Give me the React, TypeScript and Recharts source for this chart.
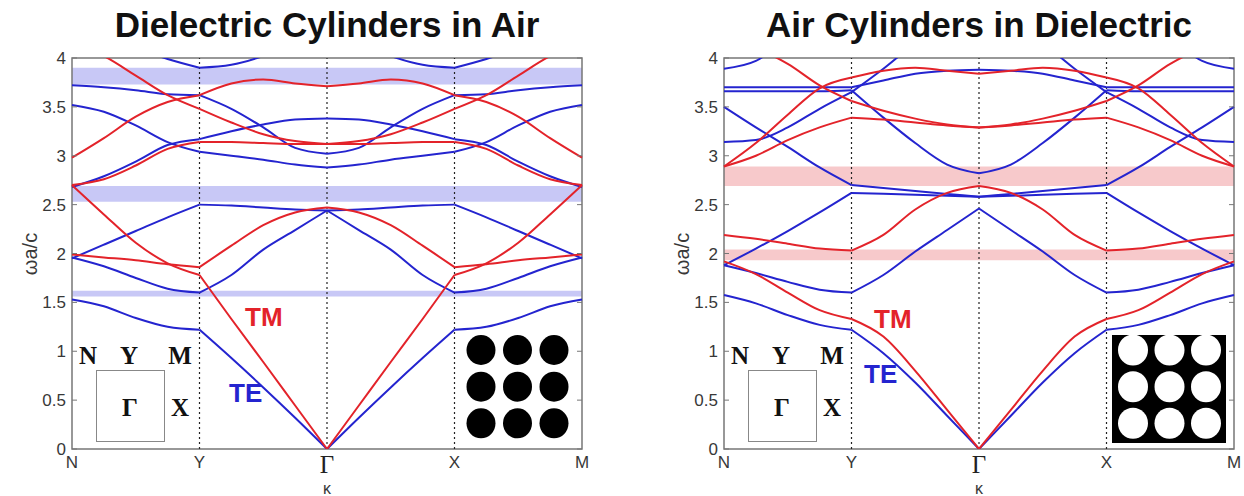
import { LineChart, Line, XAxis, YAxis, ReferenceArea, ReferenceLine } from 'recharts'

// k path through the square Brillouin zone, in segment units
const kPath = [0, 0.25, 0.5, 0.75, 1, 1.25, 1.5, 1.75, 2, 2.25, 2.5, 2.75, 3, 3.25, 3.5, 3.75, 4]
const kTicks = [0, 1, 2, 3, 4]
const kNames = ['N', 'Y', 'Γ', 'X', 'M']
const wTicks = [0, 0.5, 1, 1.5, 2, 2.5, 3, 3.5, 4]

// dielectric cylinders in air: TE bands
const rodsTE1 = [1.53, 1.46, 1.34, 1.25, 1.22, 0.93, 0.63, 0.32, 0, 0.32, 0.63, 0.93, 1.22, 1.25, 1.34, 1.46, 1.53]
const rodsTE2 = [1.96, 1.87, 1.75, 1.64, 1.6, 1.78, 2.04, 2.24, 2.44, 2.24, 2.04, 1.78, 1.6, 1.64, 1.75, 1.87, 1.96]
const rodsTE3 = [1.95, 2.09, 2.23, 2.37, 2.5, 2.49, 2.47, 2.45, 2.44, 2.45, 2.47, 2.49, 2.5, 2.37, 2.23, 2.09, 1.95]
const rodsTE4 = [2.68, 2.79, 2.94, 3.11, 3.17, 3.25, 3.32, 3.37, 3.38, 3.37, 3.32, 3.25, 3.17, 3.11, 2.94, 2.79, 2.68]
const rodsTE5 = [3.52, 3.45, 3.31, 3.14, 3.04, 3.0, 2.96, 2.91, 2.88, 2.91, 2.96, 3.0, 3.04, 3.14, 3.31, 3.45, 3.52]
const rodsTE6 = [3.72, 3.7, 3.67, 3.63, 3.62, 3.48, 3.29, 3.08, 3.02, 3.08, 3.29, 3.48, 3.62, 3.63, 3.67, 3.7, 3.72]
const rodsTE7 = [4.3, 4.22, 4.1, 3.99, 3.9, 3.93, 4.02, 4.15, 4.25, 4.15, 4.02, 3.93, 3.9, 3.99, 4.1, 4.22, 4.3]

// dielectric cylinders in air: TM bands
const rodsTM1 = [2.7, 2.4, 2.11, 1.9, 1.78, 1.33, 0.89, 0.445, 0, 0.445, 0.89, 1.33, 1.78, 1.9, 2.11, 2.4, 2.7]
const rodsTM2 = [1.99, 1.96, 1.93, 1.89, 1.86, 2.08, 2.29, 2.42, 2.47, 2.42, 2.29, 2.08, 1.86, 1.89, 1.93, 1.96, 1.99]
const rodsTM3 = [2.7, 2.76, 2.9, 3.07, 3.14, 3.14, 3.13, 3.12, 3.12, 3.12, 3.13, 3.14, 3.14, 3.07, 2.9, 2.76, 2.7]
const rodsTM4 = [4.15, 4.02, 3.82, 3.62, 3.48, 3.34, 3.22, 3.15, 3.12, 3.15, 3.22, 3.34, 3.48, 3.62, 3.82, 4.02, 4.15]
const rodsTM5 = [2.98, 3.18, 3.4, 3.55, 3.62, 3.74, 3.78, 3.74, 3.71, 3.74, 3.78, 3.74, 3.62, 3.55, 3.4, 3.18, 2.98]

const rodsGaps = [
	[1.56, 1.62],
	[2.53, 2.69],
	[3.73, 3.9],
]

// air cylinders in dielectric: TE bands
const holesTE1 = [1.575, 1.49, 1.37, 1.27, 1.22, 0.98, 0.68, 0.34, 0, 0.34, 0.68, 0.98, 1.22, 1.27, 1.37, 1.49, 1.575]
const holesTE2 = [1.88, 1.8, 1.71, 1.63, 1.6, 1.78, 2.02, 2.24, 2.46, 2.24, 2.02, 1.78, 1.6, 1.63, 1.71, 1.8, 1.88]
const holesTE3 = [1.88, 2.05, 2.23, 2.42, 2.62, 2.61, 2.6, 2.59, 2.58, 2.59, 2.6, 2.61, 2.62, 2.42, 2.23, 2.05, 1.88]
const holesTE4 = [3.5, 3.29, 3.09, 2.88, 2.7, 2.67, 2.64, 2.61, 2.58, 2.61, 2.64, 2.67, 2.7, 2.88, 3.09, 3.29, 3.5]
const holesTE5 = [3.14, 3.16, 3.29, 3.48, 3.65, 3.89, 4.15, 4.35, 4.45, 4.35, 4.15, 3.89, 3.65, 3.48, 3.29, 3.16, 3.14]
const holesTE6 = [3.66, 3.66, 3.66, 3.66, 3.67, 3.39, 3.13, 2.91, 2.82, 2.91, 3.13, 3.39, 3.67, 3.66, 3.66, 3.66, 3.66]
const holesTE7 = [3.7, 3.7, 3.7, 3.7, 3.7, 3.77, 3.84, 3.87, 3.88, 3.87, 3.84, 3.77, 3.7, 3.7, 3.7, 3.7, 3.7]
const holesTE8 = [3.89, 3.97, 4.2, 4.4, 4.5, 4.55, 4.6, 4.6, 4.6, 4.6, 4.6, 4.55, 4.5, 4.4, 4.2, 3.97, 3.89]

// air cylinders in dielectric: TM bands
const holesTM1 = [1.92, 1.79, 1.6, 1.42, 1.33, 1.15, 0.8, 0.4, 0, 0.4, 0.8, 1.15, 1.33, 1.42, 1.6, 1.79, 1.92]
const holesTM2 = [2.19, 2.15, 2.1, 2.05, 2.03, 2.19, 2.45, 2.62, 2.69, 2.62, 2.45, 2.19, 2.03, 2.05, 2.1, 2.15, 2.19]
const holesTM3 = [2.89, 3.0, 3.16, 3.29, 3.39, 3.37, 3.34, 3.31, 3.29, 3.31, 3.34, 3.37, 3.39, 3.29, 3.16, 3.0, 2.89]
const holesTM4 = [2.89, 3.13, 3.42, 3.69, 3.8, 3.87, 3.9, 3.87, 3.84, 3.87, 3.9, 3.87, 3.8, 3.69, 3.42, 3.13, 2.89]
const holesTM5 = [4.2, 4.1, 3.94, 3.72, 3.56, 3.46, 3.38, 3.32, 3.29, 3.32, 3.38, 3.46, 3.56, 3.72, 3.94, 4.1, 4.2]

const holesGaps = [
	[1.93, 2.04],
	[2.69, 2.89],
]

const RED = '#e3232a'
const BLUE = '#2424cf'
const PLOT_W = 510
const SANS = '"Liberation Sans", Arial, sans-serif'
const SERIF = '"Liberation Serif", "Times New Roman", serif'

// one series per band and per path segment, so the kinks at N, Y, Γ, X, M stay sharp
const buildRows = (te: number[][], tm: number[][]) =>
	kPath.map((k, i) => {
		const row: Record<string, number | null> = { k }
		const put = (name: string, bands: number[][]) => {
			bands.forEach((band, b) => {
				for (let s = 0; s < 4; s++) {
					row[`${name}${b}_${s}`] = k >= s && k <= s + 1 ? band[i] : null
				}
			})
		}
		put('te', te)
		put('tm', tm)
		return row
	})

const WTick = (props: any) => {
	const { x, y, payload } = props
	const left = x + 6
	return (
		<g>
			<line x1={left} x2={left + 5} y1={y} y2={y} stroke="#777" strokeWidth={1} />
			<line x1={left + PLOT_W - 5} x2={left + PLOT_W} y1={y} y2={y} stroke="#777" strokeWidth={1} />
			<text x={x} y={y + 6} textAnchor="end" fontSize={17} fill="#383838" fontFamily={SANS}>
				{payload.value}
			</text>
		</g>
	)
}

const KTick = (props: any) => {
	const { x, y, payload } = props
	const name = kNames[payload.value]
	if (name === 'Γ') {
		return (
			<text x={x} y={y + 20} textAnchor="middle" fontSize={25} fill="#222" fontFamily={SERIF}>
				{name}
			</text>
		)
	}
	return (
		<text x={x} y={y + 15} textAnchor="middle" fontSize={17} fill="#383838" fontFamily={SANS}>
			{name}
		</text>
	)
}

const latticeX = [481, 517.5, 554]
const latticeY = [350, 386.7, 423.3]

type PanelProps = {
	left: number
	title: string
	te: number[][]
	tm: number[][]
	gaps: number[][]
	gapColor: string
	tmAt: [number, number]
	teAt: [number, number]
	holes: boolean
}

const Panel = ({ left, title, te, tm, gaps, gapColor, tmAt, teAt, holes }: PanelProps) => {
	const rows = buildRows(te, tm)
	const lines: JSX.Element[] = []
	const add = (name: string, bands: number[][], color: string) => {
		bands.forEach((_, b) => {
			for (let s = 0; s < 4; s++) {
				lines.push(
					<Line
						key={`${name}${b}_${s}`}
						dataKey={`${name}${b}_${s}`}
						type="monotone"
						stroke={color}
						strokeWidth={2}
						dot={false}
						activeDot={false}
						isAnimationActive={false}
					/>
				)
			}
		})
	}
	add('te', te, BLUE)
	add('tm', tm, RED)

	return (
		<div style={{ position: 'absolute', left, top: 0, width: 620, height: 496 }}>
			<LineChart width={620} height={496} data={rows} margin={{ top: 58, right: 38, left: 12, bottom: 17 }}>
				<XAxis
					type="number"
					dataKey="k"
					domain={[0, 4]}
					ticks={kTicks}
					interval={0}
					axisLine={false}
					tickLine={false}
					tickSize={0}
					tickMargin={4}
					height={30}
					tick={KTick}
				/>
				<YAxis
					type="number"
					domain={[0, 4]}
					ticks={wTicks}
					interval={0}
					allowDataOverflow
					axisLine={false}
					tickLine={false}
					tickSize={0}
					tickMargin={6}
					width={60}
					tick={WTick}
				/>
				{gaps.map(([lo, hi]) => (
					<ReferenceArea key={lo} x1={0} x2={4} y1={lo} y2={hi} fill={gapColor} fillOpacity={1} stroke="none" />
				))}
				{[1, 2, 3].map((k) => (
					<ReferenceLine key={k} x={k} stroke="#222" strokeWidth={1.2} strokeDasharray="2 3" />
				))}
				{lines}
				<ReferenceArea x1={0} x2={4} y1={0} y2={4} fill="none" stroke="#777" strokeWidth={1.5} />
			</LineChart>
			<svg
				width={620}
				height={496}
				style={{ position: 'absolute', left: 0, top: 0, pointerEvents: 'none' }}
			>
				<text x={327} y={37} textAnchor="middle" fontSize={35} fontWeight="bold" fill="#111" fontFamily={SANS}>
					{title}
				</text>
				<text
					x={0}
					y={0}
					transform="translate(37 254) rotate(-90)"
					textAnchor="middle"
					fontSize={20}
					fill="#383838"
					fontFamily={SANS}
				>
					ωa/c
				</text>
				<text x={327} y={494} textAnchor="middle" fontSize={16} fill="#383838" fontFamily={SANS}>
					κ
				</text>
				<text x={tmAt[0]} y={tmAt[1]} fontSize={26} fontWeight="bold" fill={RED} fontFamily={SANS}>
					TM
				</text>
				<text x={teAt[0]} y={teAt[1]} fontSize={26} fontWeight="bold" fill={BLUE} fontFamily={SANS}>
					TE
				</text>
				{/* first Brillouin zone sketch */}
				<rect x={96.5} y={370.5} width={68} height={71} fill="none" stroke="#888" strokeWidth={1} />
				<g fontFamily={SERIF} fontWeight="bold" fontSize={25} fill="#111" textAnchor="middle">
					<text x={88} y={364}>N</text>
					<text x={129} y={364}>Y</text>
					<text x={180} y={364}>M</text>
					<text x={130} y={416}>Γ</text>
					<text x={180} y={416}>X</text>
				</g>
				{/* unit-cell lattice sketch */}
				{holes && <rect x={460} y={335} width={114} height={108} fill="#000" />}
				{latticeY.map((cy) =>
					latticeX.map((cx) => (
						<ellipse key={`${cx}-${cy}`} cx={cx} cy={cy} rx={holes ? 15 : 14.5} ry={holes ? 15.5 : 15} fill={holes ? '#fff' : '#000'} />
					))
				)}
			</svg>
		</div>
	)
}

export default function App() {
	return (
		<div style={{ position: 'absolute', left: 0, top: 0, width: 1244, height: 496, background: '#fff' }}>
			<Panel
				left={0}
				title="Dielectric Cylinders in Air"
				te={[rodsTE1, rodsTE2, rodsTE3, rodsTE4, rodsTE5, rodsTE6, rodsTE7]}
				tm={[rodsTM1, rodsTM2, rodsTM3, rodsTM4, rodsTM5]}
				gaps={rodsGaps}
				gapColor="#c8c8f6"
				tmAt={[245, 326]}
				teAt={[229, 402]}
				holes={false}
			/>
			<Panel
				left={652}
				title="Air Cylinders in Dielectric"
				te={[holesTE1, holesTE2, holesTE3, holesTE4, holesTE5, holesTE6, holesTE7, holesTE8]}
				tm={[holesTM1, holesTM2, holesTM3, holesTM4, holesTM5]}
				gaps={holesGaps}
				gapColor="#f7c9cb"
				tmAt={[222, 328]}
				teAt={[212, 383]}
				holes={true}
			/>
		</div>
	)
}
